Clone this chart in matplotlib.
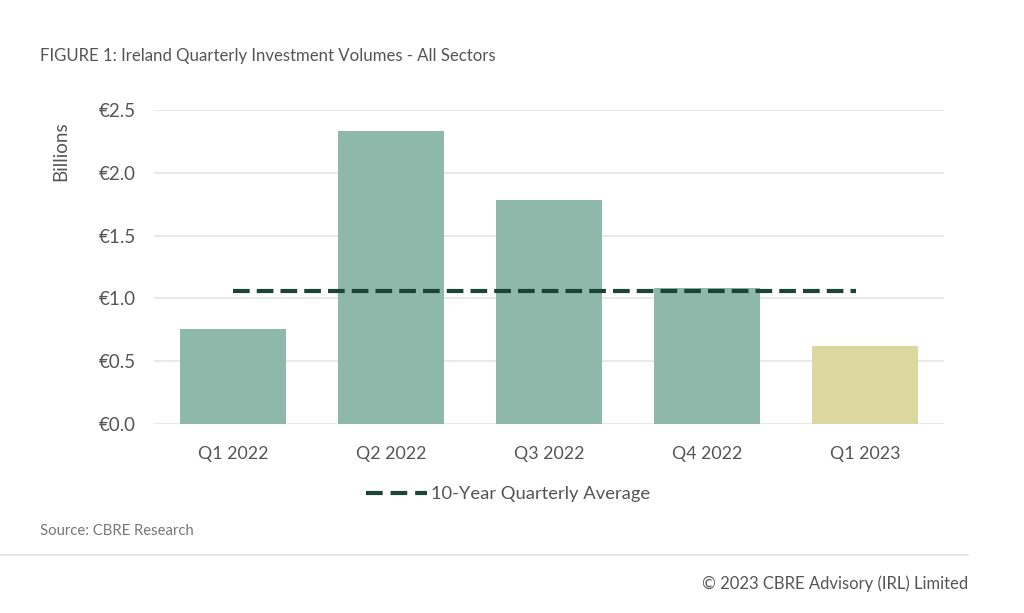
import matplotlib
matplotlib.use("Agg")
import matplotlib.pyplot as plt
from matplotlib.lines import Line2D

plt.rcParams['font.family'] = ['Lato', 'DejaVu Sans']

categories = ["Q1 2022", "Q2 2022", "Q3 2022", "Q4 2022", "Q1 2023"]
volumes = [0.76, 2.33, 1.78, 1.08, 0.62]
ten_year_avg = 1.06
yticks = [0.0, 0.5, 1.0, 1.5, 2.0, 2.5]
ytick_labels = ["€0.0", "€0.5", "€1.0", "€1.5", "€2.0", "€2.5"]

bar_colors = ["#8db8aa"] * 4 + ["#dbd89f"]
dash_color = "#1a4434"
text_color = "#555555"
grid_color = "#e5e5e5"

fig = plt.figure(figsize=(10.24, 6.13), dpi=100)
ax = fig.add_axes([154/1024, 1 - 424/613, (944-154)/1024, (424-110)/613])

x = list(range(len(categories)))
ax.bar(x, volumes, width=0.67, color=bar_colors, zorder=2)
ax.plot([x[0], x[-1] - 0.06], [ten_year_avg, ten_year_avg], color=dash_color,
        lw=3, dashes=(4, 1.7), zorder=3)

ax.set_xlim(-0.5, 4.5)
ax.set_ylim(0, 2.5)
ax.set_yticks(yticks)
ax.set_yticklabels(ytick_labels)
ax.set_xticks(x)
ax.set_xticklabels(categories)
ax.grid(axis='y', color=grid_color, lw=1.2, zorder=0)
ax.set_axisbelow(True)
for s in ax.spines.values():
    s.set_visible(False)
ax.tick_params(axis='both', length=0, colors=text_color)
ax.tick_params(axis='y', pad=13, labelsize=13.5)
ax.tick_params(axis='x', pad=16, labelsize=12.8)

fig.text(61/1024, 1 - 151/613, "Billions", rotation=90, ha='center', va='center',
         fontsize=13.5, color=text_color)
fig.text(40/1024, 1 - 56/613, "FIGURE 1: Ireland Quarterly Investment Volumes - All Sectors",
         ha='left', va='center', fontsize=12.1, color=text_color)

handle = Line2D([], [], color=dash_color, lw=3, dashes=(4, 1.9))
fig.legend([handle], ["10-Year Quarterly Average"], loc='center',
           bbox_to_anchor=(508/1024, 1 - 494/613), frameon=False,
           fontsize=13.2, labelcolor=text_color, handlelength=3.3, handletextpad=0.2)

fig.text(40/1024, 1 - 531/613, "Source: CBRE Research", ha='left', va='center',
         fontsize=10.7, color="#777777")
fig.add_artist(Line2D([0, 968/1024], [1 - 555/613, 1 - 555/613], color="#e0e0e0", lw=1.2))
fig.text(968/1024, 1 - 584/613, "© 2023 CBRE Advisory (IRL) Limited", ha='right', va='center',
         fontsize=12, color=text_color)

fig.savefig("out.png", dpi=100)
